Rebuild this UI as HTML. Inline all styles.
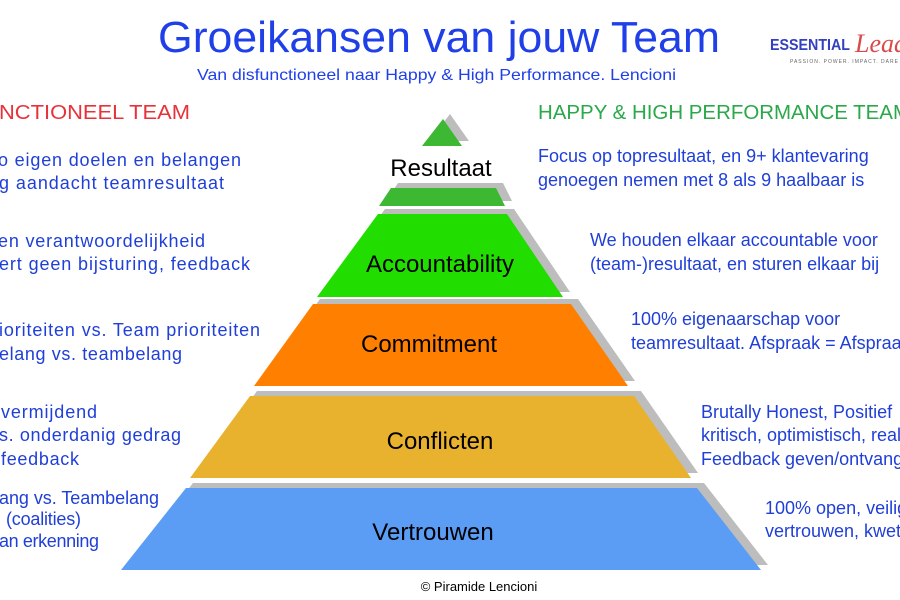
<!DOCTYPE html>
<html><head><meta charset="utf-8"><style>
html,body{margin:0;padding:0;background:#fff;}
svg{display:block;font-family:"Liberation Sans",Arial,sans-serif;}
</style></head><body>
<svg width="900" height="600" viewBox="0 0 900 600" xmlns="http://www.w3.org/2000/svg">
<rect width="900" height="600" fill="#fff"/>
<!-- Title -->
<text x="158" y="52" font-size="44" fill="#1f3fe8" textLength="562" lengthAdjust="spacingAndGlyphs">Groeikansen van jouw Team</text>
<text x="197" y="80" font-size="16" fill="#1f3fe8" textLength="479" lengthAdjust="spacingAndGlyphs">Van disfunctioneel naar Happy &amp; High Performance. Lencioni</text>
<!-- Logo -->
<text x="770" y="50" font-size="16" font-weight="bold" fill="#3340c0" textLength="80" lengthAdjust="spacingAndGlyphs">ESSENTIAL</text>
<text x="855" y="52" font-size="26" fill="#d94a4a" font-style="italic" font-family="Liberation Serif,serif">Leader</text>
<text x="790" y="63" font-size="5" fill="#666" letter-spacing="1">PASSION. POWER. IMPACT. DARE B</text>

<!-- Headers -->
<text x="-1" y="119" font-size="20" fill="#e8323a" textLength="191" lengthAdjust="spacingAndGlyphs">NCTIONEEL TEAM</text>
<text x="538" y="119" font-size="20" fill="#2aa84a" textLength="372" lengthAdjust="spacingAndGlyphs">HAPPY &amp; HIGH PERFORMANCE TEAM</text>

<!-- Left texts -->
<g font-size="18" fill="#1f3fd8" lengthAdjust="spacingAndGlyphs">
<text x="-2" y="166" textLength="243">o eigen doelen en belangen</text>
<text x="-1" y="189" textLength="225">g aandacht teamresultaat</text>
<text x="-2" y="247" textLength="207">en verantwoordelijkheid</text>
<text x="-1" y="270" textLength="251">ert geen bijsturing, feedback</text>
<text x="-1" y="336" textLength="261">ioriteiten vs. Team prioriteiten</text>
<text x="-1" y="360" textLength="183">elang vs. teambelang</text>
<text x="1" y="418" textLength="96">vermijdend</text>
<text x="-1" y="441" textLength="182">s. onderdanig gedrag</text>
<text x="1" y="465" textLength="78">feedback</text>
<text x="-1" y="504" textLength="160">ang vs. Teambelang</text>
<text x="6" y="525" textLength="75">(coalities)</text>
<text x="-1" y="547" textLength="100">an erkenning</text>
</g>

<!-- Right texts -->
<g font-size="18" fill="#1f3fd8">
<text x="538" y="162">Focus op topresultaat, en 9+ klantevaring</text>
<text x="538" y="186">genoegen nemen met 8 als 9 haalbaar is</text>
<text x="590" y="246">We houden elkaar accountable voor</text>
<text x="590" y="270">(team-)resultaat, en sturen elkaar bij</text>
<text x="631" y="325">100% eigenaarschap voor</text>
<text x="631" y="349">teamresultaat. Afspraak = Afspraak</text>
<text x="701" y="418">Brutally Honest, Positief</text>
<text x="701" y="441">kritisch, optimistisch, realistisch</text>
<text x="701" y="465">Feedback geven/ontvangen</text>
<text x="765" y="514">100% open, veilig</text>
<text x="765" y="537">vertrouwen, kwetsbaar</text>
</g>

<!-- Pyramid shadows -->
<g fill="#bdbdbd" transform="translate(7,-5)">
<polygon points="443,119 462,146 422,146"/>
<polygon points="391,188 496,188 505,206 379,206"/>
<polygon points="378,214 507,214 563,297 317,297"/>
<polygon points="313,304 571,304 628,386 254,386"/>
<polygon points="250,396 634,396 691,478 190,478"/>
<polygon points="186,488 697,488 761,570 121,570"/>
</g>
<!-- Pyramid -->
<polygon points="443,119 462,146 422,146" fill="#3cb832"/>
<polygon points="391,188 496,188 505,206 379,206" fill="#3cb832"/>
<polygon points="378,214 507,214 563,297 317,297" fill="#22dd00"/>
<polygon points="313,304 571,304 628,386 254,386" fill="#ff8000"/>
<polygon points="250,396 634,396 691,478 190,478" fill="#e8b22e"/>
<polygon points="186,488 697,488 761,570 121,570" fill="#5b9cf5"/>

<g font-size="24" fill="#000" text-anchor="middle">
<text x="441" y="176">Resultaat</text>
<text x="440" y="272">Accountability</text>
<text x="429" y="352">Commitment</text>
<text x="440" y="449">Conflicten</text>
<text x="433" y="540">Vertrouwen</text>
</g>
<text x="479" y="591" font-size="13" fill="#000" text-anchor="middle">© Piramide Lencioni</text>
</svg>
</body></html>
